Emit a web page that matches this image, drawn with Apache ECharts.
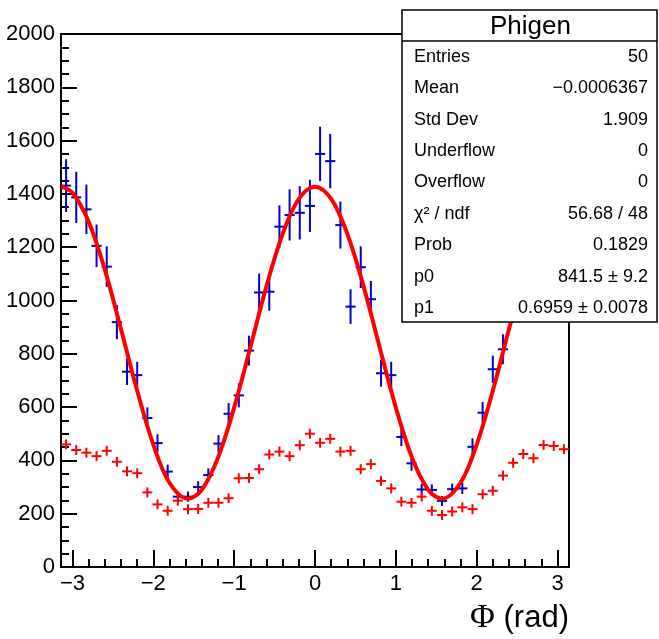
<!DOCTYPE html>
<html>
<head>
<meta charset="utf-8">
<script src="https://cdn.jsdelivr.net/npm/echarts@6/dist/echarts.min.js"></script>
<style>
html,body{margin:0;padding:0;background:#fff;}
#chart{width:659px;height:639px;}
</style>
</head>
<body>
<div id="chart"></div>
<script>
// ---- histogram binning ----
const nBins = 50;
const xMin = -3.14159265;
const xMax = 3.14159265;

// ---- blue histogram (data with errors) ----
const blueValues = [1431, 1387, 1342, 1205, 1127, 919, 733, 720, 559, 465,
  358, 264, 264, 300, 345, 463, 575, 644, 812, 1030,
  1033, 1277, 1321, 1329, 1355, 1550, 1523, 1283, 977, 1125,
  1005, 727, 720, 488, 389, 291, 289, 248, 292, 295,
  451, 579, 742, 817, 1010, 1130, 1240, 1330, 1400, 1430];
const blueErrors = [99, 96, 93, 80, 76, 64, 50, 50, 40, 33,
  26, 19, 19, 22, 25, 32, 40, 45, 56, 71,
  71, 80, 96, 100, 98, 102, 102, 88, 65, 78,
  68, 50, 50, 34, 28, 21, 21, 18, 21, 21,
  32, 40, 51, 56, 68, 78, 84, 90, 95, 98];

// ---- red histogram (markers only) ----
const redValues = [460, 439, 429, 416, 436, 395, 359, 352, 280, 235,
  211, 249, 217, 218, 241, 241, 258, 333, 334, 367,
  422, 433, 416, 457, 500, 466, 481, 433, 436, 367,
  386, 323, 295, 245, 241, 264, 211, 195, 208, 224,
  217, 273, 286, 343, 391, 424, 408, 458, 454, 442];

// ---- fit curve samples ----
const fitX = [-3.14, -3.0, -2.8, -2.6, -2.4, -2.2, -2.0, -1.8, -1.57, -1.4, -1.2, -1.0, -0.8, -0.6, -0.4, -0.2, 0,
  0.2, 0.4, 0.6, 0.8, 1.0, 1.2, 1.4, 1.57, 1.8, 2.0, 2.2, 2.4, 2.6, 2.8, 3.0, 3.14];
const fitY = [1427, 1404, 1296, 1116, 893, 662, 459, 316, 256, 290, 410, 598, 824, 1054, 1250, 1381, 1427,
  1381, 1250, 1054, 824, 598, 410, 290, 256, 316, 459, 662, 893, 1116, 1296, 1404, 1427];

// ---- axis ticks / labels ----
const xMajorTicks = [-3, -2, -1, 0, 1, 2, 3];
const xMinorTicks = [-2.8, -2.6, -2.4, -2.2, -1.8, -1.6, -1.4, -1.2, -0.8, -0.6, -0.4, -0.2,
  0.2, 0.4, 0.6, 0.8, 1.2, 1.4, 1.6, 1.8, 2.2, 2.4, 2.6, 2.8];
const yMin = 0, yMax = 2000, yStep = 200;
const xTitle = ['\u03A6', ' (rad)'];

// ---- stats box ----
const statsTitle = 'Phigen';
const statsLabels = ['Entries', 'Mean', 'Std Dev', 'Underflow', 'Overflow', '\u03C7\u00B2 / ndf', 'Prob', 'p0', 'p1'];
const statsValues = ['50', '\u22120.0006367', '1.909', '0', '0', '56.68 / 48', '0.1829', '841.5 \u00B1 9.2', '0.6959 \u00B1 0.0078'];

// ---- build ----
const binW = (xMax - xMin) / nBins;
const blueData = blueValues.map((v, i) => [xMin + (i + 0.5) * binW, v, blueErrors[i]]);
const redData = redValues.map((v, i) => [xMin + (i + 0.5) * binW, v]);
const fitData = fitX.map((x, i) => [x, fitY[i]]);

const FONT = "'Liberation Sans', Arial, Helvetica, sans-serif";
const BLUE = '#0000c8';
const RED = '#ff0000';

const chart = echarts.init(document.getElementById('chart'), null, {renderer: 'canvas'});

const fmtNum = v => (v < 0 ? '\u2212' + Math.abs(v) : String(v));

const box = {x: 402, y: 10, w: 255, h: 312, titleH: 31, rowStart: 56.7, rowStep: 31.45};
const graphics = [
  {type: 'rect', z: 100, shape: {x: box.x, y: box.y, width: box.w, height: box.h},
    style: {fill: '#fff', stroke: '#000', lineWidth: 1.5}},
  {type: 'line', z: 101, shape: {x1: box.x, y1: box.y + box.titleH, x2: box.x + box.w, y2: box.y + box.titleH},
    style: {stroke: '#000', lineWidth: 1.5}},
  {type: 'text', z: 101, style: {text: statsTitle, x: box.x + box.w / 2 + 1, y: box.y + box.titleH / 2 + 1,
    align: 'center', verticalAlign: 'middle', font: '26px ' + FONT, fill: '#000'}}
];
statsLabels.forEach((lab, i) => {
  const yy = box.rowStart + i * box.rowStep;
  graphics.push({type: 'text', z: 101, style: {text: lab, x: box.x + 12, y: yy, align: 'left', verticalAlign: 'middle',
    font: '18px ' + FONT, fill: '#000'}});
  graphics.push({type: 'text', z: 101, style: {text: statsValues[i], x: box.x + 246, y: yy, align: 'right', verticalAlign: 'middle',
    font: '18px ' + FONT, fill: '#000'}});
});

const option = {
  animation: false,
  backgroundColor: '#fff',
  grid: {left: 61, right: 90, top: 34, bottom: 72, show: true, borderColor: '#000', borderWidth: 2, backgroundColor: 'transparent'},
  xAxis: [
    {
      type: 'value', min: xMin, max: xMax, position: 'bottom',
      name: '{s|' + xTitle[0] + '}{n|' + xTitle[1] + '}',
      nameLocation: 'end', nameGap: 0,
      nameTextStyle: {
        align: 'right', verticalAlign: 'top', padding: [34, 0, 0, 0],
        rich: {
          s: {fontFamily: "'Liberation Serif', 'DejaVu Serif', serif", fontSize: 34, color: '#000'},
          n: {fontFamily: FONT, fontSize: 31, color: '#000'}
        }
      },
      axisLine: {show: true, onZero: false, lineStyle: {color: '#000', width: 2}},
      axisTick: {show: true, inside: true, length: 17, customValues: xMajorTicks, lineStyle: {color: '#000', width: 2}},
      axisLabel: {show: true, customValues: xMajorTicks, formatter: fmtNum, margin: 6,
        fontFamily: FONT, fontSize: 22, color: '#000'},
      splitLine: {show: false}
    },
    {
      type: 'value', min: xMin, max: xMax, position: 'bottom',
      axisLine: {show: false},
      axisTick: {show: true, inside: true, length: 8, customValues: xMinorTicks, lineStyle: {color: '#000', width: 2}},
      axisLabel: {show: false},
      splitLine: {show: false}
    }
  ],
  yAxis: {
    type: 'value', min: yMin, max: yMax, interval: yStep,
    axisLine: {show: true, onZero: false, lineStyle: {color: '#000', width: 2}},
    axisTick: {show: true, inside: true, length: 16, lineStyle: {color: '#000', width: 2}},
    minorTick: {show: true, splitNumber: 4, length: 8, lineStyle: {color: '#000', width: 2}},
    axisLabel: {margin: 6, fontFamily: FONT, fontSize: 22, color: '#000', formatter: v => String(v)},
    splitLine: {show: false}
  },
  graphic: graphics,
  series: [
    {
      type: 'custom', name: 'blue', xAxisIndex: 0, z: 3, clip: true,
      data: blueData,
      renderItem: function (params, api) {
        const x = api.value(0), v = api.value(1), e = api.value(2);
        const c = api.coord([x, v]);
        const lo = api.coord([x, v - e]);
        const hi = api.coord([x, v + e]);
        const hw = api.size([binW, 0])[0] / 2;
        return {type: 'group', children: [
          {type: 'line', shape: {x1: c[0] - hw, y1: c[1], x2: c[0] + hw, y2: c[1]}, style: {stroke: BLUE, lineWidth: 2}},
          {type: 'line', shape: {x1: c[0], y1: lo[1], x2: c[0], y2: hi[1]}, style: {stroke: BLUE, lineWidth: 2}}
        ]};
      }
    },
    {
      type: 'custom', name: 'red', xAxisIndex: 0, z: 4, clip: true,
      data: redData,
      renderItem: function (params, api) {
        const c = api.coord([api.value(0), api.value(1)]);
        const s = 5;
        return {type: 'group', children: [
          {type: 'line', shape: {x1: c[0] - s, y1: c[1], x2: c[0] + s, y2: c[1]}, style: {stroke: RED, lineWidth: 2}},
          {type: 'line', shape: {x1: c[0], y1: c[1] - s, x2: c[0], y2: c[1] + s}, style: {stroke: RED, lineWidth: 2}}
        ]};
      }
    },
    {
      type: 'line', name: 'fit', xAxisIndex: 0, z: 5, data: fitData, smooth: 0.35,
      showSymbol: false, symbol: 'none',
      lineStyle: {color: RED, width: 4}
    }
  ]
};
chart.setOption(option);
</script>
</body>
</html>
